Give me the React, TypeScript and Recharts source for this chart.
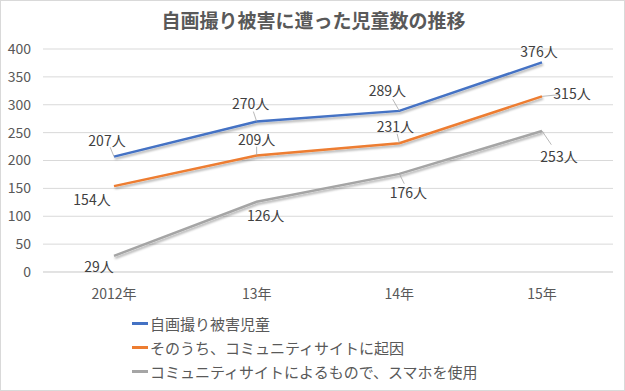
import { CartesianGrid, Line, LineChart, XAxis, YAxis } from "recharts";

document.body.style.margin = "0";

const years = ["2012年", "13年", "14年", "15年"];
const selfie = [207, 270, 289, 376];
const community = [154, 209, 231, 315];
const smartphone = [29, 126, 176, 253];
const yTicks = [0, 50, 100, 150, 200, 250, 300, 350, 400];

const series = [
  { key: "selfie", label: "自画撮り被害児童", color: "#4472C4", values: selfie },
  { key: "community", label: "そのうち、コミュニティサイトに起因", color: "#ED7D31", values: community },
  { key: "smartphone", label: "コミュニティサイトによるもので、スマホを使用", color: "#A5A5A5", values: smartphone },
];

// label centre offsets from the point, plus whether a leader line is drawn
const labelPlacement: Record<string, [number, number, boolean][]> = {
  selfie: [[-7, -17, true], [-6, -18, true], [-12, -21, true], [-3, -11, false]],
  community: [[-22, 13, false], [0, -16, true], [-4, -17, true], [30, -3, true]],
  smartphone: [[-15, 10, false], [9, 13, false], [9, 18, true], [17, 25, true]],
};

const data = years.map((year, i) => ({
  year,
  selfie: selfie[i],
  community: community[i],
  smartphone: smartphone[i],
}));

const font = '"Noto Sans CJK JP", "Noto Sans", sans-serif';

function makeLabel(key: string) {
  return (props: any) => {
    const { x, y, value, index } = props;
    const [dx, dy, leader] = labelPlacement[key][index];
    return (
      <g>
        {leader ? (
          <line
            x1={x}
            y1={y}
            x2={x + dx * 0.55}
            y2={y + dy * 0.55}
            stroke="#A6A6A6"
            strokeWidth={0.8}
          />
        ) : null}
        <text
          x={x + dx}
          y={y + dy}
          textAnchor="middle"
          dominantBaseline="central"
          fill="#404040"
          fontSize={14}
          fontFamily={font}
        >
          {value}人
        </text>
      </g>
    );
  };
}

export default function App() {
  return (
    <div
      style={{
        position: "relative",
        width: 625,
        height: 391,
        border: "1px solid #D9D9D9",
        boxSizing: "border-box",
        background: "#fff",
      }}
    >
      <div
        style={{
          position: "absolute",
          top: 5,
          left: 0,
          width: 625,
          textAlign: "center",
          fontFamily: font,
          fontSize: 19,
          fontWeight: 700,
          color: "#595959",
        }}
      >
        自画撮り被害に遭った児童数の推移
      </div>
      <div style={{ position: "absolute", top: -1, left: -1 }}>
        <LineChart
          width={625}
          height={391}
          data={data}
          margin={{ top: 49, right: 12, bottom: 89, left: 8 }}
        >
          <defs>
            <filter id="shadow" x="-10%" y="-10%" width="120%" height="140%">
              <feDropShadow dx="1" dy="2" stdDeviation="1.2" floodColor="#000" floodOpacity="0.3" />
            </filter>
          </defs>
          <CartesianGrid vertical={false} stroke="#D9D9D9" />
          <XAxis
            dataKey="year"
            tickLine={false}
            axisLine={{ stroke: "#D9D9D9" }}
            padding={{ left: 71, right: 71 }}
            tick={{ fill: "#595959", fontSize: 14, fontFamily: font }}
            tickMargin={11}
            height={30}
          />
          <YAxis
            domain={[0, 400]}
            ticks={yTicks}
            interval={0}
            tickLine={false}
            axisLine={false}
            width={35}
            tick={{ fill: "#595959", fontSize: 14, fontFamily: font, textAnchor: "end" }}
            tickMargin={6}
          />
          {series.map((s) => (
            <Line
              key={s.key}
              dataKey={s.key}
              name={s.label}
              type="linear"
              stroke={s.color}
              strokeWidth={2.5}
              dot={false}
              filter="url(#shadow)"
              label={makeLabel(s.key)}
              isAnimationActive={false}
            />
          ))}
        </LineChart>
      </div>
      <div
        style={{
          position: "absolute",
          top: 310,
          left: 131,
          fontFamily: font,
          fontSize: 15,
          color: "#595959",
        }}
      >
        {series.map((s) => (
          <div key={s.key} style={{ display: "flex", alignItems: "center", height: 24 }}>
            <span
              style={{ display: "inline-block", width: 16, height: 3, background: s.color, marginRight: 2 }}
            />
            <span>{s.label}</span>
          </div>
        ))}
      </div>
    </div>
  );
}
